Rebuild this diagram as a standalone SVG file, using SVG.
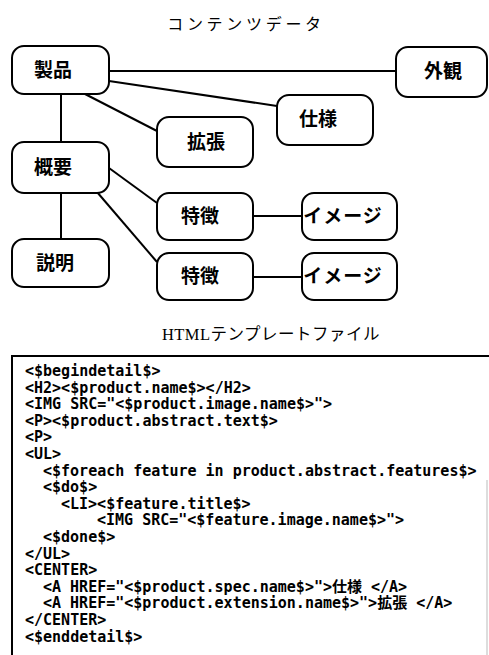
<svg xmlns="http://www.w3.org/2000/svg" width="489" height="655" viewBox="0 0 489 655">
  <style>
    .node rect { fill: #fff; stroke: #000; stroke-width: 2; }
    .node text { font-family: "Noto Sans CJK JP", sans-serif; font-size: 19px; font-weight: bold; text-anchor: middle; fill: #000; }
    .edges line { stroke: #000; stroke-width: 2; }
    .title { font-family: "Noto Sans CJK JP", sans-serif; font-size: 16px; fill: #000; text-anchor: middle; }
    .title2 { font-family: "Liberation Serif", "Noto Sans CJK JP", serif; font-size: 16.5px; fill: #000; text-anchor: middle; }
    .code { font-family: "DejaVu Sans Mono", "Noto Sans CJK JP", monospace; font-size: 15px; font-weight: bold; fill: #000; white-space: pre; }
  </style>

  <!-- upper diagram: content data -->
  <text class="title" x="246" y="30" letter-spacing="3.7">コンテンツデータ</text>

  <g class="edges">
    <line x1="109" y1="71" x2="396" y2="71"/>
    <line x1="109" y1="81" x2="277" y2="106"/>
    <line x1="85" y1="94" x2="157" y2="131"/>
    <line x1="61" y1="94" x2="61" y2="142"/>
    <line x1="109" y1="168" x2="157" y2="203"/>
    <line x1="97" y1="192" x2="157" y2="262"/>
    <line x1="61" y1="193" x2="61" y2="239"/>
    <line x1="253" y1="216" x2="302" y2="216"/>
    <line x1="253" y1="277" x2="302" y2="277"/>
  </g>

  <g id="product" class="node"><rect x="12" y="46" width="97" height="48" rx="12"/><text x="53" y="77">製品</text></g>
  <g id="appearance" class="node"><rect x="396" y="47" width="91" height="50" rx="12"/><text x="443" y="78">外観</text></g>
  <g id="spec" class="node"><rect x="277" y="95" width="96" height="50" rx="12"/><text x="318" y="126">仕様</text></g>
  <g id="extension" class="node"><rect x="157" y="117" width="96" height="50" rx="12"/><text x="206" y="149">拡張</text></g>
  <g id="abstract" class="node"><rect x="12" y="142" width="97" height="51" rx="12"/><text x="53" y="174">概要</text></g>
  <g id="description" class="node"><rect x="12" y="239" width="97" height="48" rx="12"/><text x="55" y="270">説明</text></g>
  <g id="feature1" class="node"><rect x="157" y="193" width="96" height="47" rx="12"/><text x="200" y="223">特徴</text></g>
  <g id="image1" class="node"><rect x="302" y="193" width="95" height="47" rx="12"/><text x="343" y="223" letter-spacing="1">イメージ</text></g>
  <g id="feature2" class="node"><rect x="157" y="253" width="96" height="47" rx="12"/><text x="200" y="283">特徴</text></g>
  <g id="image2" class="node"><rect x="302" y="253" width="95" height="47" rx="12"/><text x="343" y="283" letter-spacing="1">イメージ</text></g>

  <!-- lower part: HTML template file -->
  <text class="title2" x="271" y="340" letter-spacing="0.5">HTMLテンプレートファイル</text>

  <g id="template">
    <path d="M12 655 V356 H489" fill="none" stroke="#000" stroke-width="2"/>
    <line x1="487" y1="480" x2="487" y2="655" stroke="#bbb" stroke-width="1"/>
    <text class="code" x="25" y="376">&lt;$begindetail$&gt;</text>
    <text class="code" x="25" y="392.6">&lt;H2&gt;&lt;$product.name$&gt;&lt;/H2&gt;</text>
    <text class="code" x="25" y="409.2">&lt;IMG SRC="&lt;$product.image.name$&gt;"&gt;</text>
    <text class="code" x="25" y="425.8">&lt;P&gt;&lt;$product.abstract.text$&gt;</text>
    <text class="code" x="25" y="442.4">&lt;P&gt;</text>
    <text class="code" x="25" y="459">&lt;UL&gt;</text>
    <text class="code" x="43" y="475.6">&lt;$foreach feature in product.abstract.features$&gt;</text>
    <text class="code" x="43" y="492.2">&lt;$do$&gt;</text>
    <text class="code" x="61" y="508.8">&lt;LI&gt;&lt;$feature.title$&gt;</text>
    <text class="code" x="97" y="525.4">&lt;IMG SRC="&lt;$feature.image.name$&gt;"&gt;</text>
    <text class="code" x="43" y="542">&lt;$done$&gt;</text>
    <text class="code" x="25" y="558.6">&lt;/UL&gt;</text>
    <text class="code" x="25" y="575.2">&lt;CENTER&gt;</text>
    <text class="code" x="43" y="591.8">&lt;A HREF="&lt;$product.spec.name$&gt;"&gt;仕様 &lt;/A&gt;</text>
    <text class="code" x="43" y="608.4">&lt;A HREF="&lt;$product.extension.name$&gt;"&gt;拡張 &lt;/A&gt;</text>
    <text class="code" x="25" y="625">&lt;/CENTER&gt;</text>
    <text class="code" x="25" y="641.6">&lt;$enddetail$&gt;</text>
  </g>
</svg>
